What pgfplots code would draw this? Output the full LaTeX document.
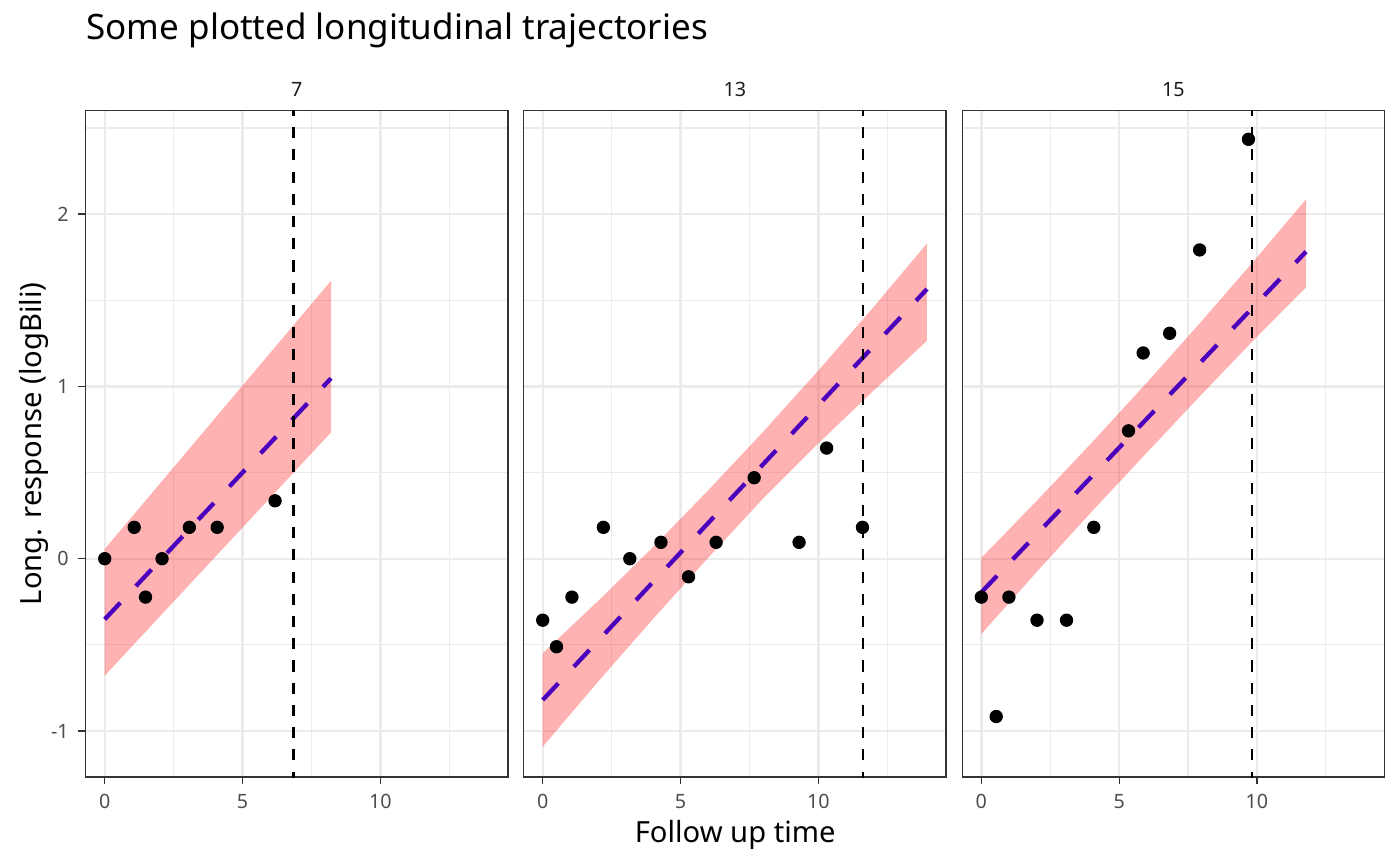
\documentclass[border=0pt]{standalone}
\usepackage{pgfplots}
\pgfplotsset{compat=1.18}
\usepackage{fontspec}
\setmainfont{Noto Sans}
\definecolor{gridc}{HTML}{EBEBEB}
\definecolor{tickc}{HTML}{4D4D4D}
\definecolor{stripc}{HTML}{1A1A1A}
\definecolor{framec}{HTML}{333333}
\definecolor{linec}{RGB}{75,0,190}
\pgfplotsset{
  panel/.style={
    scale only axis, width=152.03bp, height=240.01bp,
    anchor=south west,
    xmin=-0.69, xmax=14.63, ymin=-1.267, ymax=2.6024,
    axis line style={framec, line width=0.45bp},
    xtick={0,5,10}, minor xtick={2.5,7.5,12.5},
    ytick={-1,0,1,2}, minor ytick={-0.5,0.5,1.5,2.5},
    xticklabels={0,5,10},
    grid=both,
    major grid style={gridc, line width=0.85bp},
    minor grid style={gridc, line width=0.42bp},
    minor tick length=0pt,
    major tick length=2.6bp,
    tick align=outside, tickpos=left,
    tick style={framec, line width=0.45bp},
    /pgf/number format/assume math mode=true,
    tick label style={font=\fontsize{7.1bp}{8bp}\selectfont, text=tickc},
    clip=true,
  },
  ribbon/.style={fill=red, fill opacity=0.3, draw=none, forget plot},
  fit/.style={linec, line width=1.55bp, dash pattern=on 8.2bp off 8.2bp},
  pts/.style={only marks, mark=*, mark size=2.2bp, black},
  vl/.style={black, line width=0.95bp, dash pattern=on 4bp off 4bp},
}
\begin{document}
\begin{tikzpicture}
\path[use as bounding box] (0,0) rectangle (504bp,311.76bp);
% Panel 7
\begin{axis}[panel, at={(30.85bp,32.04bp)}, yticklabels={-1,0,1,2}]
\addplot[ribbon] coordinates {(0,0.056) (4,0.815) (8.21,1.613) (8.21,0.733) (4,0.009) (0,-0.679)} -- cycle;
\addplot[fit] coordinates {(0,-0.352) (8.21,1.047)};
\addplot[pts] coordinates {(0,0) (1.07,0.182) (1.48,-0.223) (2.08,0) (3.07,0.182) (4.08,0.182) (6.18,0.336)};
\addplot[vl] coordinates {(6.845,-1.3) (6.845,2.7)};
\end{axis}
% Panel 13
\begin{axis}[panel, at={(188.53bp,32.04bp)}, yticklabels={}, ytick style={draw=none}]
\addplot[ribbon] coordinates {(0,-0.549) (2,-0.247) (4,0.067) (6,0.396) (8,0.737) (10,1.092) (12,1.460) (13.94,1.830)
  (13.94,1.265) (12,0.975) (10,0.670) (8,0.350) (6,0.005) (4,-0.350) (2,-0.715) (0,-1.091)} -- cycle;
\addplot[fit] coordinates {(0,-0.82) (13.94,1.565)};
\addplot[pts] coordinates {(0,-0.357) (0.50,-0.511) (1.06,-0.223) (2.20,0.182) (3.16,0) (4.29,0.095) (5.29,-0.105) (6.29,0.095) (7.67,0.470) (9.30,0.095) (10.30,0.642) (11.60,0.182)};
\addplot[vl] coordinates {(11.62,-1.3) (11.62,2.7)};
\end{axis}
% Panel 15
\begin{axis}[panel, at={(346.43bp,32.04bp)}, yticklabels={}, ytick style={draw=none}]
\addplot[ribbon] coordinates {(0,0.005) (2,0.334) (4,0.672) (6,1.021) (8,1.380) (10,1.749) (11.78,2.086)
  (11.78,1.575) (10,1.289) (8,0.955) (6,0.615) (4,0.272) (2,-0.078) (0,-0.437)} -- cycle;
\addplot[fit] coordinates {(0,-0.195) (11.78,1.782)};
\addplot[pts] coordinates {(0,-0.223) (0.54,-0.916) (1.00,-0.223) (2.02,-0.357) (3.09,-0.357) (4.08,0.182) (5.34,0.742) (5.87,1.194) (6.83,1.308) (7.92,1.792) (9.69,2.434)};
\addplot[vl] coordinates {(9.82,-1.3) (9.82,2.7)};
\end{axis}
% texts
\node[anchor=base west, inner sep=0pt, font=\fontsize{12.6bp}{15bp}\selectfont] at (30.96bp,297.36bp) {Some plotted longitudinal trajectories};
\foreach \xx/\lab in {106.87/7, 264.55/13, 422.45/15}
  \node[anchor=base, inner sep=0pt, text=stripc, font=\fontsize{7.1bp}{8bp}\selectfont] at (\xx bp,276.95bp) {\lab};
\node[anchor=base, inner sep=0pt, font=\fontsize{10.5bp}{12bp}\selectfont] at (264.67bp,8.39bp) {Follow up time};
\node[anchor=base, rotate=90, inner sep=0pt, font=\fontsize{10.5bp}{12bp}\selectfont] at (15.1bp,152.0bp) {Long. response (logBili)};
\end{tikzpicture}
\end{document}
